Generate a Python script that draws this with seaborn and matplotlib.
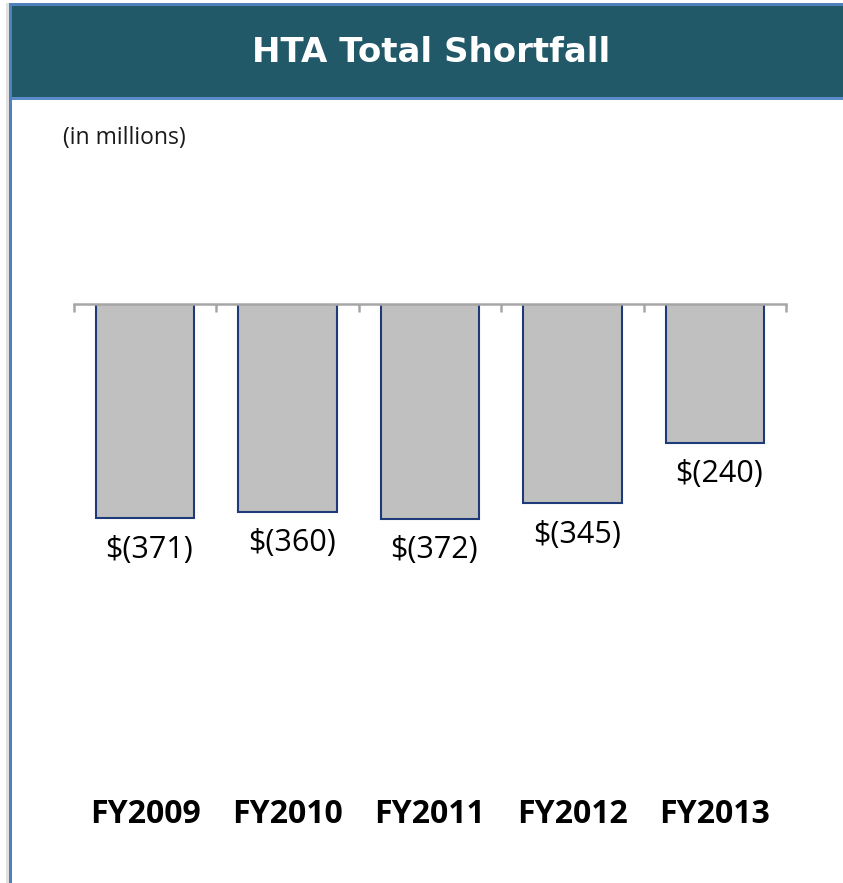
import numpy as np
import pandas as pd
import matplotlib
matplotlib.use("Agg")
import matplotlib.pyplot as plt
from matplotlib.patches import Rectangle
import seaborn as sns

# chart data
years = ['FY2009', 'FY2010', 'FY2011', 'FY2012', 'FY2013']
shortfall = [-371, -360, -372, -345, -240]
value_labels = ['$(371)', '$(360)', '$(372)', '$(345)', '$(240)']

sns.set_style("white")
plt.rcParams['font.family'] = ['Open Sans', 'DejaVu Sans']

W, H = 843, 883
fig = plt.figure(figsize=(W / 100, H / 100), dpi=100)
fig.patch.set_facecolor('white')

def px_box(x0, y0, x1, y1):
    """Convert pixel box (top-left origin) to figure fraction rect."""
    return (x0 / W, 1 - y1 / H, (x1 - x0) / W, (y1 - y0) / H)

def add_box(x0, y0, x1, y1, color):
    r = px_box(x0, y0, x1, y1)
    fig.add_artist(Rectangle(r[:2], r[2], r[3], transform=fig.transFigure,
                             color=color, lw=0))

# frame, header band and border lines
add_box(6, 3, 9, H, '#E0E0E0')
add_box(10, 5, W, 97, '#215968')
add_box(10, 3, W, 6, '#4F81BD')
add_box(10, 97, W, 100, '#5B8BC8')
add_box(9, 3, 12, H, '#4F81BD')

fig.text(431 / W, 1 - 53 / H, 'HTA Total Shortfall', color='white',
         fontsize=24.5, fontweight='bold', family='DejaVu Sans',
         ha='center', va='center')
fig.text(63 / W, 1 - 138 / H, '(in millions)', color='#1A1A1A',
         fontsize=16.5, ha='left', va='center')

# bar axes
ax = fig.add_axes(px_box(74, 303.5, 786, 790))
df = pd.DataFrame({'year': years, 'value': shortfall})
sns.barplot(data=df, x='year', y='value', color='#C0C0C0', saturation=1,
            width=0.69, edgecolor='#1F3A78', linewidth=1.5, ax=ax)

ax.set_xlim(-0.5, len(years) - 0.5)
ax.set_ylim(-840, 0)
ax.set_xlabel('')
ax.set_ylabel('')
ax.set_yticks([])
for side in ['left', 'right', 'bottom']:
    ax.spines[side].set_visible(False)
ax.spines['top'].set_color('#A6A6A6')
ax.spines['top'].set_linewidth(1.8)

# category labels at bottom, boundary ticks on top
ax.set_xticks(range(len(years)))
ax.set_xticklabels(years, fontsize=23, fontweight='bold', color='black')
ax.tick_params(axis='x', which='major', length=0, pad=6, bottom=True, top=False)
ax.set_xticks(np.arange(-0.5, len(years)), minor=True)
ax.tick_params(axis='x', which='minor', top=True, bottom=False, direction='in',
               length=6, width=1.8, color='#A6A6A6')

for i, (v, lab) in enumerate(zip(shortfall, value_labels)):
    ax.annotate(lab, xy=(i, v), xytext=(3, -22.5), textcoords='offset points',
                ha='center', va='center', fontsize=22, color='black')

fig.savefig('out.png', dpi=100)
